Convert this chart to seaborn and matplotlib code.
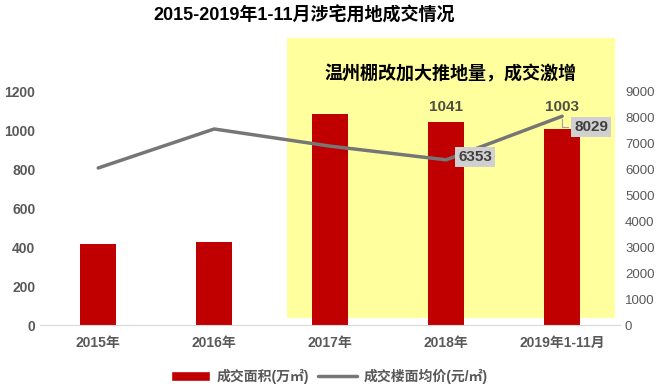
import numpy as np
import pandas as pd
import seaborn as sns
import matplotlib.pyplot as plt
from matplotlib.patches import Rectangle
from matplotlib.lines import Line2D

sns.set_style('white')
plt.rcParams['font.family'] = ['Liberation Sans', 'Noto Sans CJK SC', 'DejaVu Sans']

# data
years = ['2015年', '2016年', '2017年', '2018年', '2019年1-11月']
area = [415, 425, 1082, 1041, 1003]          # 成交面积(万㎡)
price = [6040, 7540, 6880, 6353, 8029]       # 成交楼面均价(元/㎡)
area_labels = {3: '1041', 4: '1003'}
price_labels = {3: '6353', 4: '8029'}

df = pd.DataFrame({'year': years, 'area': area, 'price': price})

fig = plt.figure(figsize=(6.59, 3.89), dpi=100)
ax = fig.add_axes([0.061, 0.1645, 0.88, 0.6015])
ax.set_facecolor('none')

# yellow highlight box behind the last three years
fig.patches.append(Rectangle((0.4355, 0.1825), 0.498, 0.7198, transform=fig.transFigure,
                             facecolor='#FFFF9E', edgecolor='none', zorder=-1))

sns.barplot(data=df, x='year', y='area', color='#C00000', width=0.31, saturation=1,
            linewidth=0, ax=ax)
ax.set_ylim(0, 1200)
ax.set_yticks(range(0, 1201, 200))
ax.set_xlim(-0.5, 4.5)
ax.set_xlabel('')
ax.set_ylabel('')
for t in ax.get_yticklabels():
    t.set_fontweight('bold')
for t in ax.get_xticklabels():
    t.set_fontweight('bold')
ax.tick_params(axis='both', colors='#595959', labelsize=10, length=0)
ax.tick_params(axis='x', pad=8)
for s in ['top', 'right', 'left']:
    ax.spines[s].set_visible(False)
ax.spines['bottom'].set_color('#D9D9D9')

# labels above the bars, 1003 lifted clear of the line
for i, lab in area_labels.items():
    ax.text(i, max(area[i], area[3]) + 40, lab, ha='center', va='bottom', fontsize=11,
            fontweight='bold', color='#505040')

ax2 = ax.twinx()
sns.lineplot(x=np.arange(len(years)), y=price, color='#767676', linewidth=2.5, ax=ax2)
ax2.set_ylim(0, 9000)
ax2.set_yticks(range(0, 9001, 1000))
ax2.tick_params(axis='y', colors='#595959', labelsize=9.5, length=0)
for s in ['top', 'right', 'left', 'bottom']:
    ax2.spines[s].set_visible(False)

box = dict(boxstyle='square,pad=0.2', facecolor='#D0D0D0', edgecolor='none')
ax2.annotate(price_labels[3], xy=(3, price[3]), xytext=(3.25, price[3] + 100),
             ha='center', va='center', fontsize=11, fontweight='bold', color='#404040', bbox=box)
ax2.annotate(price_labels[4], xy=(4, price[4]), xytext=(4.25, price[4] - 420),
             ha='center', va='center', fontsize=11, fontweight='bold', color='#404040', bbox=box,
             arrowprops=dict(arrowstyle='-', color='#A0A0A0', lw=0.8,
                             connectionstyle='angle,angleA=0,angleB=90,rad=0'))

fig.text(0.462, 0.96, '2015-2019年1-11月涉宅用地成交情况', ha='center', va='center',
         fontsize=13, fontweight='bold', color='#000000')
fig.text(0.683, 0.808, '温州棚改加大推地量，成交激增', ha='center', va='center',
         fontsize=13, fontweight='bold', color='#000000')

handles = [Rectangle((0, 0), 1, 1, facecolor='#C00000'),
           Line2D([0], [0], color='#767676', linewidth=2.5)]
leg = fig.legend(handles, ['成交面积(万㎡)', '成交楼面均价(元/㎡)'], loc='center',
                 bbox_to_anchor=(0.5, 0.033), ncol=2, frameon=False, fontsize=10,
                 handlelength=2.8, columnspacing=0.6, handletextpad=0.5)
for t in leg.get_texts():
    t.set_color('#595959')
    t.set_fontweight('bold')

fig.savefig('out.png', dpi=100)
